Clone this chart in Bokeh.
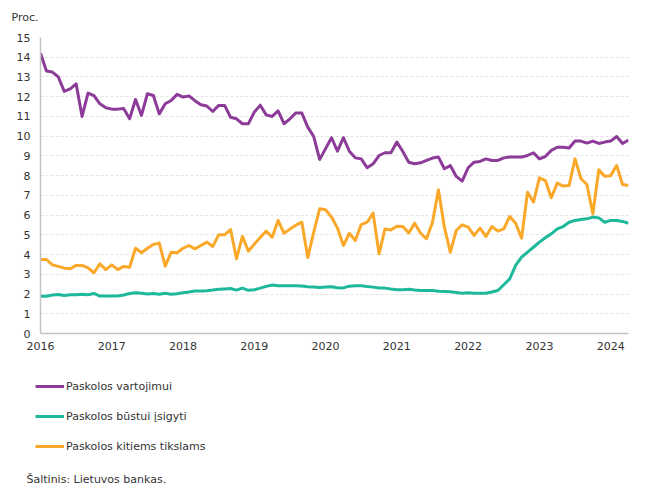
from bokeh.plotting import figure
from bokeh.layouts import column, row
from bokeh.models import Range1d, FixedTicker, Label, Legend, LegendItem
from bokeh.embed import file_html
from bokeh.resources import INLINE

# Monthly data, Jan 2016 .. Apr 2024 (index = months since Jan 2016)
years = ["2016", "2017", "2018", "2019", "2020", "2021", "2022", "2023", "2024"]

vartojimui = [
    14.2, 13.3, 13.25, 13.0, 12.27, 12.4, 12.65, 11.0, 12.18, 12.05, 11.64, 11.44,
    11.37, 11.37, 11.4, 10.88, 11.86, 11.05, 12.15, 12.06, 11.13, 11.64, 11.81, 12.12,
    11.98, 12.04, 11.8, 11.59, 11.53, 11.25, 11.56, 11.56, 10.96, 10.88, 10.63, 10.63,
    11.22, 11.57, 11.08, 11.0, 11.28, 10.63, 10.88, 11.18, 11.17, 10.46, 9.98, 8.82,
    9.37, 9.92, 9.24, 9.92, 9.24, 8.9, 8.85, 8.4, 8.6, 9.02, 9.16, 9.16,
    9.7, 9.22, 8.68, 8.6, 8.65, 8.77, 8.89, 8.94, 8.35, 8.51, 7.96, 7.72,
    8.4, 8.68, 8.72, 8.85, 8.77, 8.77, 8.9, 8.94, 8.94, 8.94, 9.02, 9.16,
    8.85, 8.97, 9.28, 9.44, 9.44, 9.4, 9.75, 9.75, 9.65, 9.75, 9.63, 9.7,
    9.75, 9.98, 9.63, 9.8,
]

bustui = [
    1.89, 1.89, 1.95, 1.98, 1.93, 1.96, 1.96, 1.99, 1.96, 2.03, 1.9, 1.9,
    1.9, 1.9, 1.95, 2.03, 2.07, 2.04, 2.0, 2.03, 1.99, 2.04, 1.99, 2.01,
    2.07, 2.1, 2.15, 2.16, 2.17, 2.2, 2.24, 2.26, 2.28, 2.2, 2.3, 2.19,
    2.22, 2.3, 2.39, 2.46, 2.42, 2.42, 2.42, 2.42, 2.41, 2.37, 2.36, 2.33,
    2.36, 2.37, 2.32, 2.31, 2.4, 2.42, 2.42, 2.38, 2.35, 2.31, 2.3, 2.25,
    2.22, 2.22, 2.24, 2.2, 2.18, 2.18, 2.18, 2.14, 2.13, 2.11, 2.08, 2.04,
    2.06, 2.04, 2.04, 2.04, 2.1, 2.18, 2.47, 2.77, 3.45, 3.87, 4.12, 4.37,
    4.63, 4.85, 5.05, 5.3, 5.42, 5.64, 5.73, 5.78, 5.81, 5.9, 5.86, 5.64,
    5.73, 5.73, 5.68, 5.59,
]

kitiems = [
    3.75, 3.75, 3.48, 3.4, 3.31, 3.28, 3.45, 3.45, 3.33, 3.08, 3.53, 3.24,
    3.48, 3.24, 3.4, 3.36, 4.32, 4.09, 4.32, 4.51, 4.58, 3.41, 4.12, 4.09,
    4.32, 4.46, 4.29, 4.46, 4.63, 4.41, 5.0, 5.0, 5.27, 3.79, 4.92, 4.17,
    4.53, 4.87, 5.19, 4.88, 5.73, 5.08, 5.29, 5.49, 5.64, 3.85, 5.13, 6.32,
    6.27, 5.9, 5.34, 4.46, 5.08, 4.71, 5.52, 5.64, 6.1, 4.04, 5.3, 5.25,
    5.44, 5.42, 5.1, 5.59, 5.08, 4.8, 5.64, 7.28, 5.39, 4.12, 5.22, 5.51,
    5.39, 4.97, 5.34, 4.92, 5.42, 5.19, 5.3, 5.93, 5.59, 4.83, 7.16, 6.66,
    7.89, 7.75, 6.88, 7.62, 7.47, 7.5, 8.85, 7.84, 7.55, 6.07, 8.3, 7.97,
    8.0, 8.51, 7.55, 7.5,
]

series_names = ["Paskolos vartojimui", "Paskolos būstui įsigyti", "Paskolos kitiems tikslams"]
colors = ["#8C3B98", "#1DB99A", "#F9A82A"]
unit_label = "Proc."
source_text = "Šaltinis: Lietuvos bankas."

months = list(range(len(vartojimui)))
FONT = "DejaVu Sans"
TXT = "#333333"
W = 642
NAN = float("nan")


def blank_fig(h):
    f = figure(width=W, height=h, output_backend="svg", toolbar_location=None,
               x_range=Range1d(0, W), y_range=Range1d(0, h),
               x_axis_location=None, y_axis_location=None,
               min_border_left=0, min_border_right=0, min_border_top=0, min_border_bottom=0)
    f.outline_line_color = None
    f.xgrid.grid_line_color = None
    f.ygrid.grid_line_color = None
    f.border_fill_color = "white"
    return f


# --- top strip with unit label ---
top = blank_fig(24)
top.add_layout(Label(x=11, y=7, x_units="screen", y_units="screen", text=unit_label,
                     text_font=FONT, text_font_size="11px", text_color=TXT,
                     text_baseline="middle", text_align="left"))

# --- main chart ---
p = figure(width=W, height=334, output_backend="svg", toolbar_location=None,
           x_range=Range1d(0, 99), y_range=Range1d(0, 15),
           min_border_left=40, min_border_right=14, min_border_top=13,
           min_border_bottom=25)
p.outline_line_color = None
p.border_fill_color = "white"

p.xaxis.ticker = FixedTicker(ticks=[12 * i for i in range(len(years))])
p.xaxis.major_label_overrides = {12 * i: y for i, y in enumerate(years)}
p.yaxis.ticker = FixedTicker(ticks=list(range(0, 16)))
for ax in (p.xaxis[0], p.yaxis[0]):
    ax.axis_line_color = "#c4c4c4"
    ax.axis_line_width = 1.5
    ax.major_tick_line_color = None
    ax.minor_tick_line_color = None
    ax.major_tick_out = 0
    ax.major_tick_in = 0
    ax.minor_tick_out = 0
    ax.minor_tick_in = 0
    ax.major_label_text_font = FONT
    ax.major_label_text_font_size = "11px"
    ax.major_label_text_color = TXT
p.yaxis.major_label_standoff = 10
p.xaxis.major_label_standoff = 8

p.xgrid.grid_line_color = None
p.ygrid.grid_line_color = "#e4e4e4"
p.ygrid.grid_line_dash = "3 2"
p.ygrid.grid_line_width = 1

for vals, c in zip([vartojimui, bustui, kitiems], colors):
    p.line(months, vals, line_color=c, line_width=3, line_join="round")

# --- legend + source strip ---
bot = blank_fig(136)
dummies = [bot.line([NAN], [NAN], line_color=c, line_width=3) for c in colors]
legend = Legend(items=[LegendItem(label=n, renderers=[r]) for n, r in zip(series_names, dummies)],
                location=(35, 38), orientation="vertical",
                glyph_width=29, glyph_height=20, label_height=20, spacing=10,
                label_standoff=2, padding=0, margin=0,
                border_line_color=None, background_fill_alpha=0,
                label_text_font=FONT, label_text_font_size="11px", label_text_color=TXT)
bot.add_layout(legend, "center")
bot.add_layout(Label(x=26, y=15.5, x_units="screen", y_units="screen", text=source_text,
                     text_font=FONT, text_font_size="11px", text_color=TXT,
                     text_baseline="middle", text_align="left"))

layout = column(row(top), row(p), row(bot), spacing=0)
open("out.html", "w").write(file_html(layout, INLINE))
